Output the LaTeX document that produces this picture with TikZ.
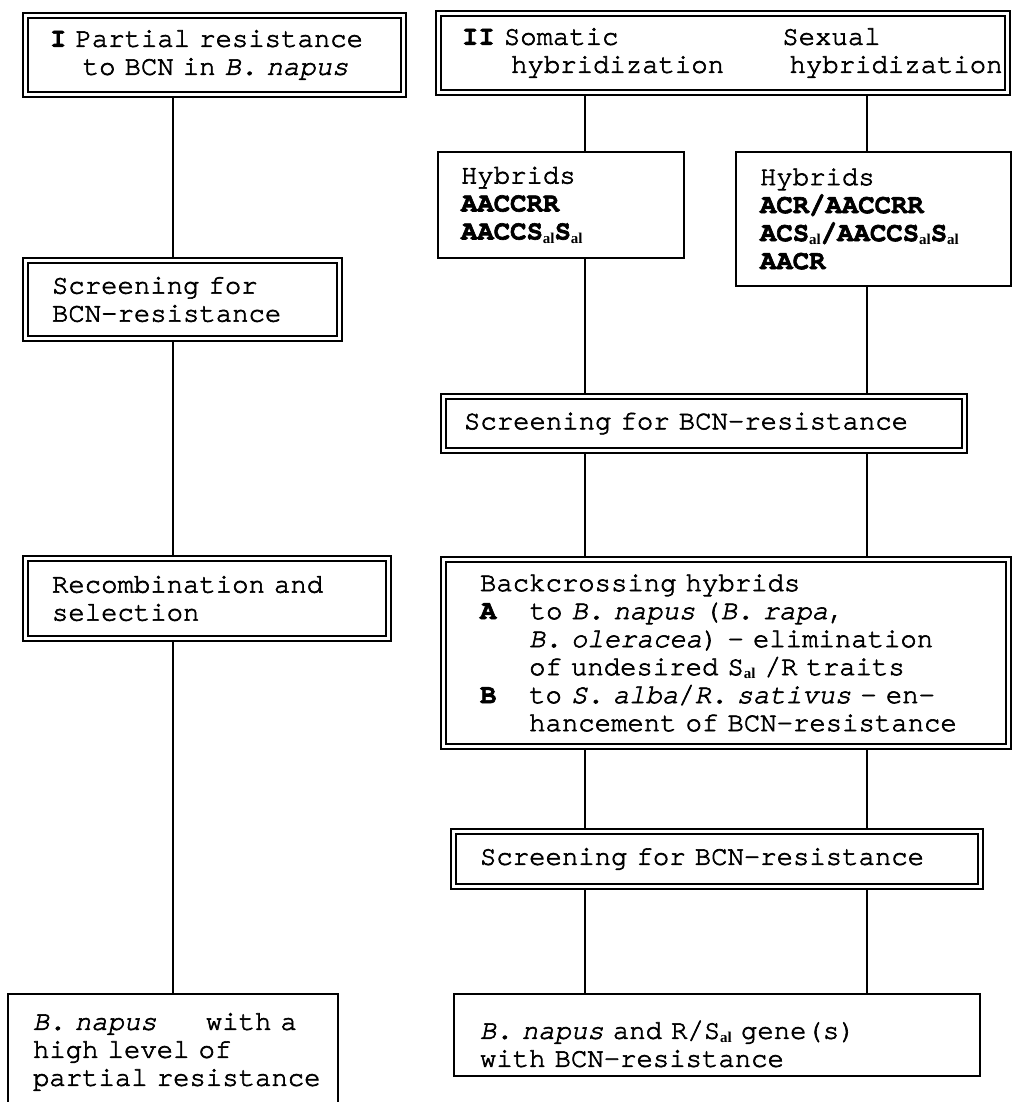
\documentclass[tikz,border=0pt]{standalone}
\usepackage{fontspec}
\setmainfont{TeX Gyre Cursor}[FakeBold=2.3]
\newfontfamily\subfont{Liberation Serif}
\usetikzlibrary{backgrounds}
\newcommand{\sk}[1]{\hspace*{\dimexpr #1\fontcharwd\font`0\relax}}
\newcommand{\sal}{\raisebox{-3.5pt}{\subfont\bfseries\fontsize{15}{15}\selectfont al}}
\newcommand{\monosp}{\spaceskip=16.38pt\relax\xspaceskip=16.38pt\relax}
\tikzset{
  dbox/.style={draw, double, line width=1.8pt, double distance=3.5pt, fill=white, align=left, inner ysep=0pt},
  sbox/.style={draw, line width=2pt, fill=white, align=left, inner ysep=0pt},
  conn/.style={line width=2pt},
}
\begin{document}
\begin{tikzpicture}[x=1pt, y=-1pt, font=\fontsize{27.3}{28}\selectfont\monosp]
\useasboundingbox (0,0) rectangle (1013,1102);
\coordinate (cl) at (173,0);
\coordinate (ca) at (585,0);
\coordinate (cb) at (867,0);
% left column
\node[dbox, minimum width=378pt, minimum height=79pt, text width=329pt, inner xsep=24.5pt] (L1) at (214.5,55)
  {\textbf{I} Partial resistance\\\sk{2}to BCN in \textit{B. napus}};
\node[dbox, minimum width=314pt, minimum height=78pt, text width=261pt, inner xsep=26.5pt] (L2) at (182.5,299.5)
  {Screening for\\BCN-resistance};
\node[dbox, minimum width=363pt, minimum height=80pt, text width=310pt, inner xsep=26.5pt] (L3) at (207,598.5)
  {Recombination and\\selection};
\node[sbox, minimum width=330pt, minimum height=116pt, text width=280pt, inner xsep=25pt] (L4) at (173,1052)
  {\textit{B. napus}\sk{3}with a\\high level of\\\mbox{partial resistance}};
% right column
\node[dbox, minimum width=569pt, minimum height=79pt, text width=522pt, inner xsep=23.5pt] (R1) at (723,53)
  {\textbf{II} Somatic\sk{10}Sexual\\\mbox{\sk{3}hybridization\sk{4}hybridization}};
\node[sbox, minimum width=246pt, minimum height=106pt, text width=200pt, inner xsep=23pt] (R2) at (561,205)
  {Hybrids\\\textbf{AACCRR}\\\textbf{AACCS\sal S\sal}};
\node[sbox, minimum width=275pt, minimum height=134pt, text width=227pt, inner xsep=24pt] (R3) at (873.5,219)
  {Hybrids\\\textbf{ACR/AACCRR}\\\textbf{ACS\sal/AACCS\sal S\sal}\\\textbf{AACR}};
\node[dbox, minimum width=521pt, minimum height=54pt, text width=480pt, inner xsep=20.5pt] (R4) at (704,423.5)
  {Screening for BCN-resistance};
\node[dbox, minimum width=565pt, minimum height=187pt, text width=492pt, inner xsep=36.5pt] (R5) at (726,653)
  {Backcrossing hybrids\\
   \textbf{A}\sk{2}to \textit{B. napus} (\textit{B. rapa},\\
   \sk{3}\textit{B. oleracea}) - elimination\\
   \sk{3}of undesired S\sal\ /R traits\\
   \textbf{B}\sk{2}to \textit{S. alba}/\textit{R. sativus} - en-\\
   \mbox{\sk{3}hancement of BCN-resistance}};
\node[dbox, minimum width=527pt, minimum height=55pt, text width=474pt, inner xsep=26.5pt] (R6) at (717,859)
  {Screening for BCN-resistance};
\node[sbox, minimum width=526pt, minimum height=82pt, text width=474pt, inner xsep=26pt] (R7) at (717,1035)
  {\rule{0pt}{36pt}\textit{B. napus} and R/S\sal{} gene(s)\\with BCN-resistance};
% connectors
\begin{pgfonlayer}{background}
\fill[white] (0,0) rectangle (1013,1102);
\draw[conn] (L1.south -| cl) -- (L2.north -| cl);
\draw[conn] (L2.south -| cl) -- (L3.north -| cl);
\draw[conn] (L3.south -| cl) -- (L4.north -| cl);
\draw[conn] (R1.south -| ca) -- (R2.north -| ca);
\draw[conn] (R1.south -| cb) -- (R3.north -| cb);
\draw[conn] (R2.south -| ca) -- (R4.north -| ca);
\draw[conn] (R3.south -| cb) -- (R4.north -| cb);
\draw[conn] (R4.south -| ca) -- (R5.north -| ca);
\draw[conn] (R4.south -| cb) -- (R5.north -| cb);
\draw[conn] (R5.south -| ca) -- (R6.north -| ca);
\draw[conn] (R5.south -| cb) -- (R6.north -| cb);
\draw[conn] (R6.south -| ca) -- (R7.north -| ca);
\draw[conn] (R6.south -| cb) -- (R7.north -| cb);
\end{pgfonlayer}
\end{tikzpicture}
\end{document}
